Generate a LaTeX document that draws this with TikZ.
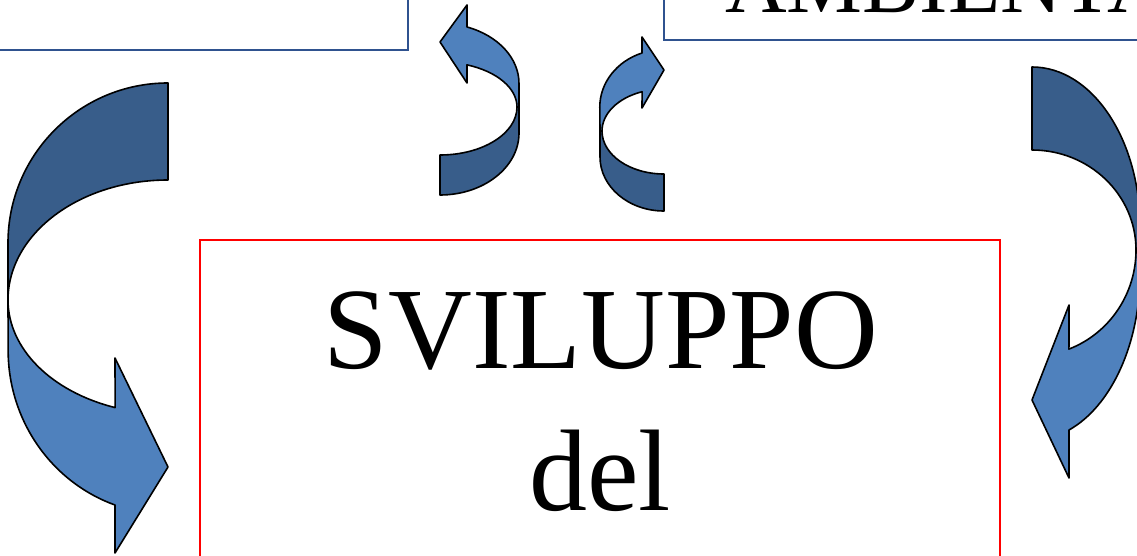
\documentclass[tikz,border=0pt]{standalone}
\usepackage{fontspec}
\setmainfont{Liberation Serif}
\definecolor{arrowfront}{HTML}{4F81BD}
\definecolor{arrowback}{HTML}{385D8A}
\definecolor{boxblue}{RGB}{47,82,143}

\begin{document}
\begin{tikzpicture}[x=0.75pt,y=-0.75pt,
  back/.style = {draw=black, line width=1.2pt, fill=arrowback, line join=round},
  front/.style = {draw=black, line width=1.2pt, fill=arrowfront, line join=round},
  bluebox/.style = {draw=boxblue, line width=1.5pt},
  redbox/.style = {draw=red, line width=1.1pt},
  txt/.style = {inner sep=0pt, anchor=base}]
\useasboundingbox (0,0) rectangle (1137,556);
\clip (0,0) rectangle (1137,556);

\draw[bluebox] (-20,-20) rectangle (408,50);
\draw[bluebox] (664,-20) rectangle (1160,40);
\draw[redbox] (200,240) rectangle (1000,600);
\node[txt, anchor=base west] (ambiente) at (725,13) {\fontsize{64}{64}\selectfont AMBIENTA};
\node[txt] (sviluppo) at (601,368) {\fontsize{87}{87}\selectfont SVILUPPO};
\node[txt] (del) at (600,510) {\fontsize{87}{87}\selectfont del};

% left big arrow
\draw[back] (168,83) arc[start angle=270, end angle=180, x radius=160, y radius=160]
  -- (8,300) arc[start angle=180, end angle=270, x radius=160, y radius=120] -- cycle;
\draw[front] (8,300) arc[start angle=180, end angle=109.3, x radius=160, y radius=114]
  -- (115,358) -- (168,467) -- (115,553) -- (115,505)
  arc[start angle=109.4, end angle=180, x radius=160, y radius=164] -- cycle;

% right big arrow
\draw[back] (1032,67) arc[start angle=270, end angle=360, x radius=108, y radius=160]
  -- (1140,250) -- (1136,250) arc[start angle=0, end angle=-90, x radius=104, y radius=100] -- cycle;
\draw[front] (1136,250) arc[start angle=0, end angle=69.2, x radius=104, y radius=106]
  -- (1069,305) -- (1032,400) -- (1069,478) -- (1069,430)
  arc[start angle=69.96, end angle=0, x radius=108, y radius=167] -- (1140,250) -- cycle;

% small arrows
\draw[back] (440,195) arc[start angle=90, end angle=0, x radius=79, y radius=62]
  -- (519,107) -- (517,107) arc[start angle=0, end angle=90, x radius=77, y radius=48] -- cycle;
\draw[front] (517,107) arc[start angle=0, end angle=-69.5, x radius=77, y radius=45]
  -- (467,83) -- (440,42) -- (467,5) -- (467,27)
  arc[start angle=-70, end angle=0, x radius=79, y radius=60] -- (519,107) -- cycle;

\draw[back] (664,211) arc[start angle=90, end angle=180, x radius=64, y radius=54]
  -- (600,131) -- (602,131) arc[start angle=180, end angle=90, x radius=62, y radius=43] -- cycle;
\draw[front] (602,131) arc[start angle=180, end angle=249.3, x radius=62, y radius=42]
  -- (642,108) -- (664,70) -- (642,37) -- (642,53)
  arc[start angle=250.1, end angle=180, x radius=64, y radius=57.5] -- (600,131) -- cycle;
\end{tikzpicture}
\end{document}
